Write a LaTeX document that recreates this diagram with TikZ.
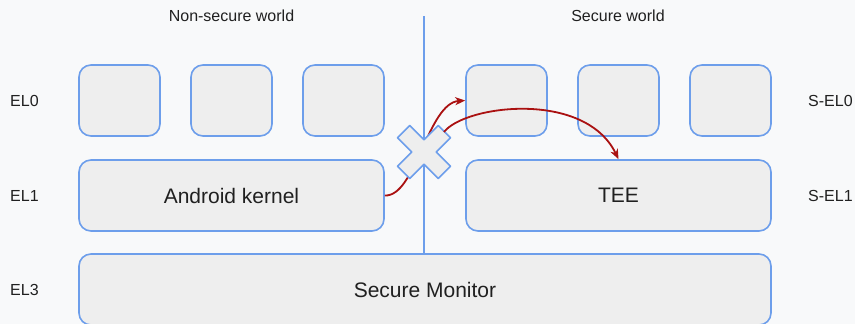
\documentclass[tikz,border=0pt]{standalone}
\usepackage{fontspec}
\setmainfont{Liberation Sans}
\usepackage{xcolor}
\usepackage{tikz}
\usetikzlibrary{arrows.meta,positioning,calc}

\definecolor{pagebg}{HTML}{F8F9FA}
\definecolor{boxfill}{HTML}{EEEEEE}
\definecolor{boxline}{HTML}{6D9EEB}
\definecolor{callred}{HTML}{AA1111}
\definecolor{ink}{HTML}{202020}

\begin{document}
\begin{tikzpicture}[x=1pt,y=-1pt,font=\fontsize{16}{19}\selectfont,text=ink,
  elbox/.style={draw=boxline,fill=boxfill,line width=1.6pt,rounded corners=12pt,
    inner sep=0pt,minimum height=71pt},
  big/.style={font=\fontsize{21}{25}\selectfont},
  call/.style={draw=callred,line width=1.8pt,-{Stealth[length=10pt,width=8pt,inset=3pt]}}]
\fill[pagebg] (0,0) rectangle (855,324);
\useasboundingbox (0,0) rectangle (855,324);

\node (nsw) at (231.5,16) {Non-secure world};
\node (sw) at (618,16) {Secure world};

\foreach \n/\y in {0/100.5,1/195.5,3/289.5} {
  \node[anchor=west,inner sep=0pt] (el\n) at (10,\y) {EL\n};
}
\node[anchor=west,inner sep=0pt] (sel0) at (808,100.5) {S-EL0};
\node[anchor=west,inner sep=0pt] (sel1) at (808,195.5) {S-EL1};

\foreach \x/\n in {119.5/n1,231.5/n2,343.5/n3,506.5/s1,618.5/s2,730.5/s3} {
  \node[elbox,minimum width=81pt] (\n) at (\x,100.5) {};
}
\node[elbox,big,minimum width=305pt] (kernel) at (231.5,195.5) {Android kernel};
\node[elbox,big,minimum width=305pt] (tee) at (618.5,195.5) {TEE};
\node[elbox,big,minimum width=692pt] (mon) at (425,289.5) {Secure Monitor};

\coordinate (divtop) at (424,16);
\draw[boxline,line width=1.5pt] (divtop) -- (divtop |- mon.north);

\draw[call] (kernel.east) .. controls +(31,1.5) and +(-37.5,2.5) .. (s1.west);

\draw[draw=boxline,fill=boxfill,line width=1.6pt,line join=round,shift={(424,152)},rotate=45]
  (8.7,8.7) -- (28.8,8.7) -- (28.8,-8.7) -- (8.7,-8.7) -- (8.7,-28.8) -- (-8.7,-28.8)
  -- (-8.7,-8.7) -- (-28.8,-8.7) -- (-28.8,8.7) -- (-8.7,8.7) -- (-8.7,28.8) -- (8.7,28.8) -- cycle;
\coordinate (xtip) at (444,132);

\draw[call] (xtip) .. controls (465,105) and (585,90) .. (tee.north);
\end{tikzpicture}
\end{document}
